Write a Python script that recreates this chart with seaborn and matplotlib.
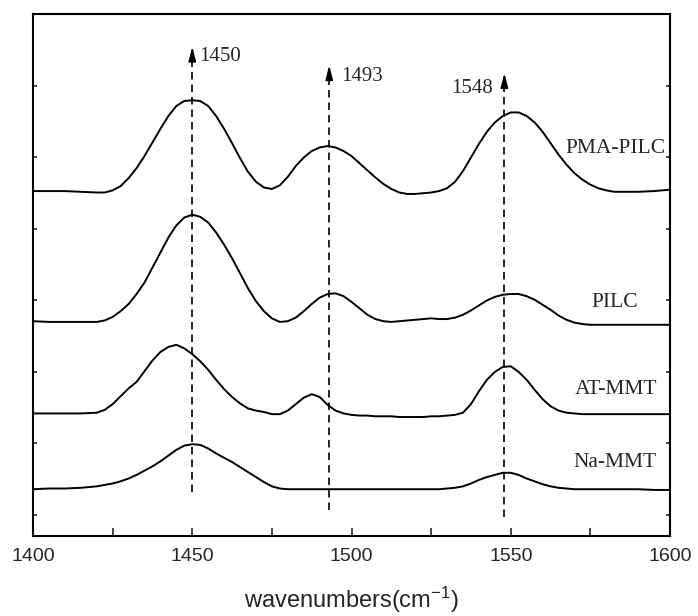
import matplotlib
matplotlib.use("Agg")
import matplotlib.pyplot as plt
import seaborn as sns
import pandas as pd

# ---- data (y in arbitrary offset absorbance units) ----
wavenumber = [1400, 1405, 1410, 1415,
              1420, 1422.5, 1425, 1427.5, 1430, 1432.5, 1435, 1437.5, 1440, 1442.5,
              1445, 1447.5, 1450, 1452.5, 1455, 1457.5, 1460, 1462.5, 1465, 1467.5,
              1470, 1472.5, 1475, 1477.5, 1480, 1482.5, 1485, 1487.5, 1490, 1492.5,
              1495, 1497.5, 1500, 1502.5, 1505, 1507.5, 1510, 1512.5, 1515, 1517.5,
              1520, 1522.5, 1525, 1527.5, 1530, 1532.5, 1535, 1537.5, 1540, 1542.5,
              1545, 1547.5, 1550, 1552.5, 1555, 1557.5, 1560, 1562.5, 1565, 1567.5,
              1570, 1572.5, 1575, 1577.5, 1580, 1582.5, 1585, 1587.5, 1590,
              1595, 1600]

pma_pilc = [4.53, 4.53, 4.53, 4.52,
            4.51, 4.51, 4.54, 4.60, 4.71, 4.85, 5.02, 5.21, 5.40, 5.58,
            5.72, 5.79, 5.80, 5.79, 5.72, 5.58, 5.40, 5.20, 4.99, 4.80,
            4.66, 4.58, 4.56, 4.61, 4.73, 4.88, 5.00, 5.09, 5.14, 5.16,
            5.14, 5.09, 5.02, 4.92, 4.82, 4.72, 4.63, 4.56, 4.51, 4.49,
            4.49, 4.50, 4.51, 4.53, 4.57, 4.66, 4.81, 5.00, 5.19, 5.36,
            5.49, 5.58, 5.63, 5.63, 5.58, 5.49, 5.36, 5.20, 5.04, 4.90,
            4.78, 4.69, 4.62, 4.57, 4.54, 4.52, 4.52, 4.52, 4.52,
            4.53, 4.55]

pilc = [2.71, 2.70, 2.70, 2.70,
        2.70, 2.72, 2.77, 2.85, 2.95, 3.09, 3.25, 3.46, 3.67, 3.88,
        4.05, 4.16, 4.20, 4.17, 4.09, 3.95, 3.78, 3.59, 3.38, 3.17,
        2.99, 2.85, 2.75, 2.70, 2.71, 2.76, 2.85, 2.95, 3.04, 3.09,
        3.10, 3.06, 2.98, 2.89, 2.80, 2.74, 2.71, 2.70, 2.71, 2.72,
        2.73, 2.74, 2.75, 2.74, 2.74, 2.76, 2.80, 2.86, 2.93, 3.00,
        3.05, 3.08, 3.09, 3.09, 3.06, 3.01, 2.94, 2.87, 2.79, 2.73,
        2.69, 2.67, 2.66, 2.66, 2.66, 2.66, 2.66, 2.66, 2.66,
        2.66, 2.66]

at_mmt = [1.42, 1.42, 1.42, 1.42,
          1.43, 1.47, 1.55, 1.66, 1.77, 1.86, 2.01, 2.16, 2.28, 2.35,
          2.38, 2.33, 2.25, 2.15, 2.03, 1.89, 1.76, 1.65, 1.56, 1.49,
          1.46, 1.44, 1.41, 1.41, 1.46, 1.55, 1.64, 1.69, 1.65, 1.54,
          1.46, 1.42, 1.40, 1.39, 1.39, 1.38, 1.38, 1.38, 1.37, 1.37,
          1.37, 1.37, 1.38, 1.38, 1.39, 1.40, 1.43, 1.55, 1.73, 1.89,
          2.00, 2.07, 2.08, 2.00, 1.89, 1.75, 1.62, 1.52, 1.46, 1.43,
          1.42, 1.41, 1.41, 1.41, 1.41, 1.41, 1.41, 1.41, 1.41,
          1.41, 1.41]

na_mmt = [0.36, 0.37, 0.37, 0.38,
          0.40, 0.42, 0.44, 0.47, 0.51, 0.56, 0.62, 0.68, 0.75, 0.83,
          0.91, 0.97, 0.99, 0.98, 0.93, 0.86, 0.80, 0.74, 0.67, 0.60,
          0.53, 0.46, 0.40, 0.37, 0.36, 0.36, 0.36, 0.36, 0.36, 0.36,
          0.36, 0.36, 0.36, 0.36, 0.36, 0.36, 0.36, 0.36, 0.36, 0.36,
          0.36, 0.36, 0.36, 0.36, 0.37, 0.38, 0.40, 0.44, 0.49, 0.53,
          0.56, 0.59, 0.59, 0.56, 0.51, 0.47, 0.43, 0.40, 0.38, 0.37,
          0.36, 0.36, 0.36, 0.36, 0.36, 0.36, 0.36, 0.36, 0.36,
          0.35, 0.35]

samples = ["PMA-PILC", "PILC", "AT-MMT", "Na-MMT"]
sample_values = [pma_pilc, pilc, at_mmt, na_mmt]

# label anchor (right edge x, centre y) for each curve name
label_x = [1598.7, 1590.0, 1595.9, 1595.9]
label_y = [5.13, 2.97, 1.75, 0.74]

# marked bands: position, arrow-line bottom, arrow tip, text anchor
band_pos = [1450, 1493, 1548]
band_labels = ["1450", "1493", "1548"]
band_bottom = [0.32, 0.07, -0.03]
band_tip = [6.55, 6.29, 6.18]
band_text_x = [1452.3, 1496.9, 1531.3]
band_text_y = [6.41, 6.13, 5.97]

x_major = [1400, 1450, 1500, 1550, 1600]
x_minor = [1425, 1475, 1525, 1575]
y_ticks = [0, 1, 2, 3, 4, 5, 6]

# ---- build long-form frame ----
frames = []
for name, vals in zip(samples, sample_values):
    frames.append(pd.DataFrame({"wavenumber": wavenumber, "absorbance": vals, "sample": name}))
df = pd.concat(frames, ignore_index=True)

sns.set_style("ticks")
plt.rcParams["font.family"] = ["Liberation Sans", "DejaVu Sans"]
plt.rcParams["mathtext.default"] = "regular"

fig = plt.figure(figsize=(6.98, 6.16), dpi=100)
ax = fig.add_axes([0.0473, 0.1299, 0.9126, 0.8474])

sns.lineplot(data=df, x="wavenumber", y="absorbance", hue="sample",
             palette={s: "black" for s in samples}, legend=False,
             linewidth=1.4, ax=ax, sort=True, estimator=None)
for ln in ax.get_lines():
    ln.set_solid_joinstyle("round")

# dashed band markers with arrow heads
for xp, lab, yb, yt, tx, ty in zip(band_pos, band_labels, band_bottom, band_tip,
                                   band_text_x, band_text_y):
    ax.plot([xp, xp], [yb, yt - 0.12], color="black", lw=1.2,
            linestyle=(0, (4.5, 3)))
    ax.annotate("", xy=(xp, yt), xytext=(xp, yt - 0.2),
                arrowprops=dict(arrowstyle="-|>,head_length=0.85,head_width=0.22",
                                color="black", lw=1.2, shrinkA=0, shrinkB=0,
                                mutation_scale=10))
    ax.text(tx, ty, lab, ha="left", va="center", fontsize=15,
            family=["Liberation Serif", "DejaVu Serif"])

for name, lx, ly in zip(samples, label_x, label_y):
    ax.text(lx, ly, name, ha="right", va="center", fontsize=15.5,
            family=["Liberation Serif", "DejaVu Serif"])

ax.set_xlim(1400, 1600)
ax.set_ylim(-0.294, 7.007)
ax.set_xticks(x_major)
ax.set_xticks(x_minor, minor=True)
ax.set_xticklabels([str(v) for v in x_major], fontsize=14)
ax.set_yticks(y_ticks)
ax.set_yticklabels([])
ax.tick_params(axis="x", which="both", direction="in", length=6, width=1.2,
               top=False, bottom=True, pad=9)
ax.tick_params(axis="y", which="both", direction="in", length=3, width=1.2,
               left=True, right=True)
for sp in ax.spines.values():
    sp.set_visible(True)
    sp.set_linewidth(1.5)
    sp.set_color("black")

ax.set_xlabel("wavenumbers(cm$^{-1}$)", fontsize=17, labelpad=14)
ax.set_ylabel("")

fig.savefig("out.png", dpi=100)
